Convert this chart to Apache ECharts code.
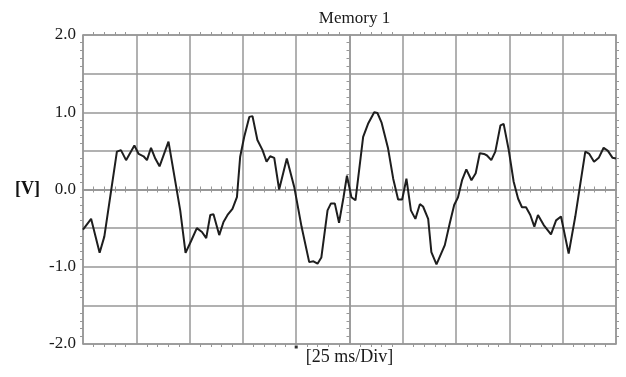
<!DOCTYPE html>
<html>
<head>
<meta charset="utf-8">
<script src="https://cdn.jsdelivr.net/npm/echarts@6/dist/echarts.min.js"></script>
<style>
html,body{margin:0;padding:0;background:#fff;}
#c{width:626px;height:377px;}
</style>
</head>
<body>
<div id="c"></div>
<script>
// Time (ms) of each sample, 25 ms per division
var timeMs = [0, 3.8, 7.8, 10.0, 15.9, 17.8, 20.2, 24.1, 26.1, 28.4, 30.0, 31.9, 33.9, 35.9, 40.1,
  45.6, 48.1, 50.8, 53.4, 55.8, 57.8, 59.7, 61.2, 63.9, 65.9, 67.8, 70.1, 72.2, 73.7, 75.6, 78.0,
  79.5, 81.8, 84.2, 86.1, 87.8, 89.7, 92.0, 95.6, 99.1, 102.5, 106.1, 108.1, 110.0, 111.8, 114.7,
  116.3, 118.1, 120.1, 122.2, 123.8, 125.9, 127.8, 131.4, 133.7, 136.6, 138.1, 140.0, 143.1, 145.5,
  147.8, 149.7, 151.7, 153.8, 155.9, 158.0, 159.5, 161.9, 163.4, 165.8, 169.7, 172.0, 174.1, 175.9,
  177.8, 179.8, 182.2, 184.2, 186.1, 188.1, 189.5, 191.5, 193.4, 195.8, 197.3, 199.7, 202.0, 204.1,
  205.9, 207.8, 209.8, 211.7, 213.4, 216.1, 219.5, 221.9, 224.2, 227.8, 230.9, 233.3, 235.6, 237.5,
  239.7, 241.9, 244.2, 246.2, 248.4, 250];
// Voltage (V) of each sample
var volts = [-0.52, -0.38, -0.82, -0.61, 0.49, 0.51, 0.38, 0.57, 0.46, 0.43, 0.38, 0.54, 0.40, 0.30, 0.62,
  -0.27, -0.82, -0.66, -0.50, -0.55, -0.63, -0.33, -0.32, -0.59, -0.42, -0.33, -0.25, -0.10, 0.42, 0.68, 0.94,
  0.95, 0.64, 0.51, 0.36, 0.43, 0.41, 0.00, 0.40, 0.03, -0.48, -0.94, -0.93, -0.96, -0.88, -0.27,
  -0.18, -0.18, -0.43, -0.10, 0.18, -0.10, -0.14, 0.68, 0.85, 1.00, 0.99, 0.87, 0.53, 0.14,
  -0.13, -0.13, 0.14, -0.27, -0.38, -0.19, -0.22, -0.38, -0.81, -0.97, -0.72, -0.44, -0.20, -0.10,
  0.12, 0.26, 0.12, 0.21, 0.47, 0.46, 0.44, 0.38, 0.49, 0.83, 0.85, 0.51, 0.10, -0.12,
  -0.23, -0.23, -0.33, -0.48, -0.33, -0.46, -0.58, -0.40, -0.35, -0.83, -0.35, 0.08, 0.49, 0.46,
  0.36, 0.41, 0.54, 0.50, 0.41, 0.40];
// Axis ranges
var xRange = [0, 250];     // ms, 10 divisions
var xStep = 25;
var yRange = [-2.0, 2.0];  // V
var yStep = 0.5;
var yLabelValues = [2.0, 1.0, 0.0, -1.0, -2.0];
var triggerMark = [[100, -2.0]];

var gridColor = '#979797';
var serif = '"Liberation Serif", "Times New Roman", serif';

var gridLeft = 83, gridRight = 10;
var gridWidth = 626 - gridLeft - gridRight;

function tickStyle() {
  return { show: true, splitNumber: 5, length: 3, lineStyle: { color: gridColor, width: 1 } };
}
function lineStyleAxis(onZero) {
  return { show: true, onZero: onZero, onZeroAxisIndex: 0, lineStyle: { color: gridColor, width: 1.5 } };
}
function baseX(extra) {
  var o = {
    type: 'value', min: xRange[0], max: xRange[1], interval: xStep,
    axisLabel: { show: false },
    axisLine: lineStyleAxis(false),
    axisTick: { show: false },
    splitLine: { show: false },
    minorTick: tickStyle()
  };
  for (var k in extra) o[k] = extra[k];
  return o;
}
function baseY(extra) {
  var o = {
    type: 'value', min: yRange[0], max: yRange[1], interval: yStep,
    axisLabel: { show: false },
    axisLine: lineStyleAxis(false),
    axisTick: { show: false },
    splitLine: { show: false },
    minorTick: tickStyle()
  };
  for (var k in extra) o[k] = extra[k];
  return o;
}

var chart = echarts.init(document.getElementById('c'), null, { renderer: 'canvas' });
chart.setOption({
  backgroundColor: '#ffffff',
  animation: false,
  title: {
    text: 'Memory 1',
    left: gridLeft + gridWidth / 2,
    textAlign: 'center',
    top: 5,
    textStyle: { fontFamily: serif, fontSize: 17, fontWeight: 'normal', color: '#1a1a1a' }
  },
  grid: { left: gridLeft, right: gridRight, top: 35, bottom: 33 },
  xAxis: [
    baseX({
      position: 'bottom',
      name: '[25 ms/Div]', nameLocation: 'middle', nameGap: 4,
      nameTextStyle: { fontFamily: serif, fontSize: 18, color: '#1a1a1a', verticalAlign: 'top' },
      splitLine: { show: true, lineStyle: { color: gridColor, width: 1.5 } }
    }),
    baseX({ position: 'top' }),
    baseX({ position: 'bottom', axisLine: lineStyleAxis(true) }),
    baseX({ position: 'top', axisLine: lineStyleAxis(true) })
  ],
  yAxis: [
    baseY({
      position: 'left',
      axisLabel: {
        show: true, margin: 7, fontFamily: serif, fontSize: 17, color: '#1a1a1a',
        formatter: function (v) {
          for (var i = 0; i < yLabelValues.length; i++) {
            if (Math.abs(yLabelValues[i] - v) < 1e-9) return v.toFixed(1);
          }
          return '';
        }
      },
      splitLine: { show: true, lineStyle: { color: gridColor, width: 1.5 } }
    }),
    baseY({ position: 'right' }),
    baseY({ position: 'left', offset: -gridWidth / 2 }),
    baseY({ position: 'right', offset: gridWidth / 2 })
  ],
  graphic: [{
    type: 'text', left: 15, top: 180,
    style: { text: '[V]', font: 'bold 18px ' + serif, fill: '#111' }
  }],
  series: [{
    type: 'line',
    xAxisIndex: 0, yAxisIndex: 0,
    data: timeMs.map(function (t, i) { return [t, volts[i]]; }),
    showSymbol: false,
    lineStyle: { color: '#1e1e1e', width: 2 },
    z: 5
  }, {
    type: 'scatter',
    xAxisIndex: 0, yAxisIndex: 0,
    data: triggerMark,
    symbol: 'rect', symbolSize: 3, symbolOffset: [0, 3],
    itemStyle: { color: '#000' },
    z: 6
  }]
});
</script>
</body>
</html>
